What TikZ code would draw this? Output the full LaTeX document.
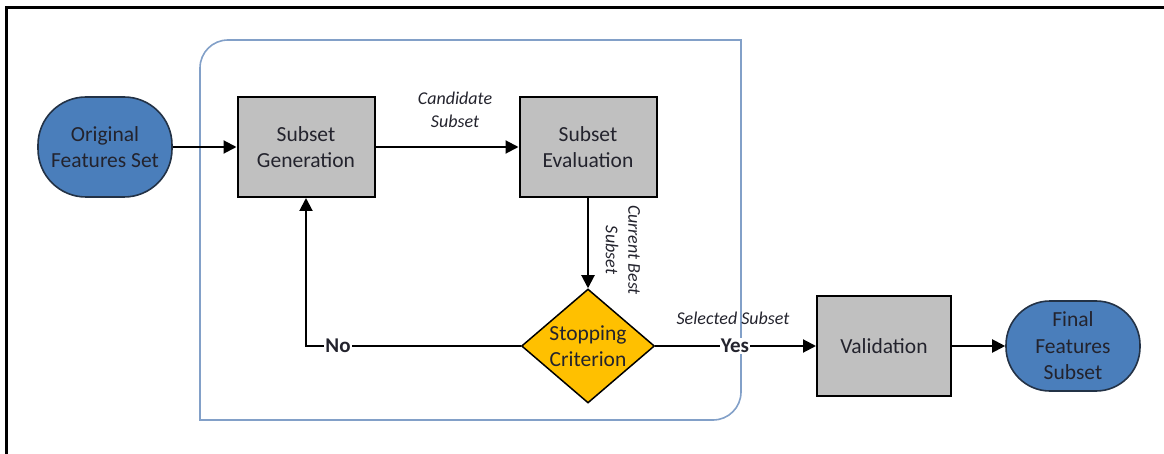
\documentclass[tikz,border=0pt]{standalone}
\usepackage{fontspec}
\setmainfont{Carlito}
\usetikzlibrary{arrows.meta,shapes.geometric,calc}
\definecolor{featblue}{RGB}{74,126,187}
\definecolor{termdraw}{RGB}{35,50,70}
\definecolor{boxgray}{RGB}{192,192,192}
\definecolor{stopgold}{RGB}{255,192,0}
\definecolor{frameblue}{RGB}{130,160,200}
\definecolor{txt}{RGB}{35,35,45}
\tikzset{
  term/.style={draw=termdraw, fill=featblue, line width=1.6pt, align=center, inner sep=0pt,
    font=\fontsize{21.5}{26.5}\selectfont, text=txt},
  proc/.style={draw=black, fill=boxgray, line width=2pt, align=center, inner sep=0pt,
    minimum width=137pt, minimum height=100pt, font=\fontsize{21.5}{26.5}\selectfont, text=txt},
  decide/.style={diamond, draw=black, fill=stopgold, line width=1.5pt, inner sep=0pt,
    minimum width=133pt, minimum height=114pt},
  arr/.style={draw=black, line width=2pt, -{Triangle[length=13pt,width=13pt]}},
  note/.style={font=\itshape\fontsize{18}{22.5}\selectfont, text=txt, align=center, inner sep=0pt},
  flag/.style={font=\bfseries\fontsize{21}{26}\selectfont, text=txt, fill=white, inner sep=1pt}
}
\begin{document}
\begin{tikzpicture}[x=1pt,y=-1pt]
\useasboundingbox (0,0) rectangle (1164,454);
% outer frame (top and left edges only)
\draw[line width=3pt] (6.5,454) -- (6.5,7.5) -- (1164,7.5);
% search container
\draw[frameblue, line width=1.6pt] (200,420) -- (200,68) .. controls (200,52.5) and (212.5,40) .. (228,40)
  -- (741,40) -- (741,392) .. controls (741,407.5) and (728.5,420) .. (713,420) -- cycle;
% nodes
\node[term, minimum width=134pt, minimum height=100pt, rounded corners=48pt] (orig) at (105,147) {Original\\Features Set};
\node[proc] (gen) at (306,147) {Subset\\Generation};
\node[proc] (eval) at (588,147) {Subset\\Evaluation};
\node[decide, label={[align=center, font=\fontsize{21.5}{26.5}\selectfont, text=txt]center:Stopping\\Criterion}] (dia) at (588,346) {};
\node[proc, minimum width=134pt] (val) at (884,346) {Validation};
\node[term, minimum width=134pt, minimum height=90pt, rounded corners=44pt] (fin) at (1073,346) {Final\\Features\\Subset};
% connectors
\draw[arr] (orig.east) -- (gen.west);
\draw[arr] (gen.east) -- (eval.west);
\draw[arr] (eval.south) -- (dia.north);
\draw[arr] (dia.west) -- (gen.south |- dia.west) -- (gen.south);
\draw[arr] (dia.east) -- (val.west);
\draw[arr] (val.east) -- (fin.west);
% labels
\node[note] (cand) at (455,110) {Candidate\\Subset};
\node[note, rotate=-90] (cbest) at (623,250) {Current Best\\Subset};
\node[note] (sel) at (733,318) {Selected Subset};
\node[flag] (no) at (338,346) {No};
\node[flag] (yes) at (735,346) {Yes};
\end{tikzpicture}
\end{document}
